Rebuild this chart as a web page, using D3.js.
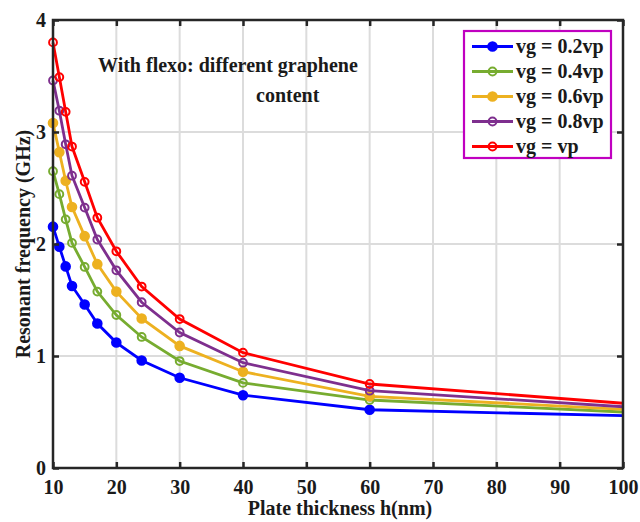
<!DOCTYPE html>
<meta charset="utf-8">
<script src="https://cdn.jsdelivr.net/npm/d3@7"></script>
<style>
body { margin: 0; background: #fff; }
text { font-family: "Liberation Serif", "Times New Roman", serif; font-weight: bold; fill: #1a1a1a; }
.grid line { stroke: #dcdcdc; stroke-width: 2px; }
</style>
<body>
<script>

// plate thickness values (nm)
var thickness = [10, 11, 12, 13, 15, 17, 20, 24, 30, 40, 60, 100];

// resonant frequency (GHz) for each graphene content
var vg02 = [2.155, 1.976, 1.80, 1.625, 1.46, 1.29, 1.12, 0.96, 0.806, 0.65, 0.52, 0.467];
var vg04 = [2.65, 2.445, 2.22, 2.01, 1.795, 1.575, 1.366, 1.17, 0.955, 0.76, 0.607, 0.50];
var vg06 = [3.08, 2.82, 2.565, 2.33, 2.07, 1.82, 1.575, 1.335, 1.09, 0.86, 0.64, 0.524];
var vg08 = [3.46, 3.19, 2.89, 2.61, 2.325, 2.04, 1.765, 1.48, 1.21, 0.94, 0.69, 0.547];
var vg10 = [3.80, 3.49, 3.18, 2.87, 2.555, 2.235, 1.935, 1.62, 1.33, 1.03, 0.75, 0.578];

var seriesNames = ["vg = 0.2vp", "vg = 0.4vp", "vg = 0.6vp", "vg = 0.8vp", "vg = vp"];
var seriesColors = ["#0000ff", "#77ac30", "#edb120", "#7e2f8e", "#ff0000"];
var seriesFilled = [true, false, true, false, false];
var seriesValues = [vg02, vg04, vg06, vg08, vg10];

var xTicks = [10, 20, 30, 40, 50, 60, 70, 80, 90, 100];
var yTicks = [0, 1, 2, 3, 4];

var width = 640, height = 522;
var margin = {left: 53, right: 17, top: 20, bottom: 54};

var svg = d3.select("body").append("svg")
    .attr("width", width)
    .attr("height", height);

var x = d3.scaleLinear().domain([10, 100]).range([margin.left, width - margin.right]);
var y = d3.scaleLinear().domain([0, 4]).range([height - margin.bottom, margin.top]);

// grid
svg.append("g").attr("class", "grid")
    .selectAll("line").data(xTicks.slice(1, -1)).enter().append("line")
    .attr("x1", function(d) { return x(d); }).attr("x2", function(d) { return x(d); })
    .attr("y1", y(0)).attr("y2", y(4));
svg.append("g").attr("class", "grid")
    .selectAll("line").data(yTicks.slice(1, -1)).enter().append("line")
    .attr("x1", x(10)).attr("x2", x(100))
    .attr("y1", function(d) { return y(d); }).attr("y2", function(d) { return y(d); });

// lines + markers
var line = d3.line()
    .x(function(d) { return x(d[0]); })
    .y(function(d) { return y(d[1]); });

seriesValues.forEach(function(vals, i) {
  var pts = thickness.map(function(t, j) { return [t, vals[j]]; });
  var g = svg.append("g");
  g.append("path")
      .attr("d", line(pts))
      .attr("fill", "none")
      .attr("stroke", seriesColors[i])
      .attr("stroke-width", 2.8);
  g.selectAll("circle").data(pts.slice(0, -1)).enter().append("circle")
      .attr("cx", function(d) { return x(d[0]); })
      .attr("cy", function(d) { return y(d[1]); })
      .attr("r", seriesFilled[i] ? 4.3 : 3.9)
      .attr("fill", seriesFilled[i] ? seriesColors[i] : "none")
      .attr("stroke", seriesColors[i])
      .attr("stroke-width", 2);
});

// axes (MATLAB style: box with inward ticks)
var axisColor = "#262626";
function styleAxis(g) {
  g.select(".domain").remove();
  g.selectAll(".tick line").attr("stroke", axisColor).attr("stroke-width", 2.5);
  g.selectAll(".tick text").style("font-size", "20px").attr("fill", "#1a1a1a");
}

svg.append("g")
    .attr("transform", "translate(0," + y(0) + ")")
    .call(d3.axisBottom(x).tickValues(xTicks).tickSize(-6).tickPadding(12).tickFormat(d3.format("d")))
    .call(styleAxis);
svg.append("g")
    .attr("transform", "translate(0," + y(4) + ")")
    .call(d3.axisTop(x).tickValues(xTicks).tickSize(-6).tickFormat(""))
    .call(styleAxis);
svg.append("g")
    .attr("transform", "translate(" + x(10) + ",0)")
    .call(d3.axisLeft(y).tickValues(yTicks).tickSize(-6).tickPadding(7).tickFormat(d3.format("d")))
    .call(styleAxis);
svg.append("g")
    .attr("transform", "translate(" + x(100) + ",0)")
    .call(d3.axisRight(y).tickValues(yTicks).tickSize(-6).tickFormat(""))
    .call(styleAxis);

svg.append("rect")
    .attr("x", x(10)).attr("y", y(4))
    .attr("width", x(100) - x(10)).attr("height", y(0) - y(4))
    .attr("fill", "none").attr("stroke", axisColor).attr("stroke-width", 2.5);

// axis labels
svg.append("text")
    .attr("x", (x(10) + x(100)) / 2 + 2).attr("y", 515)
    .attr("text-anchor", "middle")
    .style("font-size", "20px")
    .text("Plate thickness h(nm)");
svg.append("text")
    .attr("transform", "translate(30," + ((y(0) + y(4)) / 2) + ") rotate(-90)")
    .attr("text-anchor", "middle")
    .style("font-size", "20px")
    .text("Resonant frequency (GHz)");

// annotation
svg.append("text").attr("x", 98).attr("y", 72)
    .style("font-size", "20px").attr("fill", "#000").text("With flexo: different graphene");
svg.append("text").attr("x", 256).attr("y", 102)
    .style("font-size", "20px").attr("fill", "#000").text("content");

// legend
var lg = svg.append("g");
lg.append("rect")
    .attr("x", 464).attr("y", 31).attr("width", 147).attr("height", 127)
    .attr("fill", "#fff").attr("stroke", "#c000c0").attr("stroke-width", 2.2);
seriesNames.forEach(function(name, i) {
  var cy = 46.5 + i * 25;
  lg.append("line")
      .attr("x1", 472).attr("x2", 513).attr("y1", cy).attr("y2", cy)
      .attr("stroke", seriesColors[i]).attr("stroke-width", 2.8);
  lg.append("circle")
      .attr("cx", 492.5).attr("cy", cy).attr("r", seriesFilled[i] ? 4.3 : 3.9)
      .attr("fill", seriesFilled[i] ? seriesColors[i] : "none")
      .attr("stroke", seriesColors[i]).attr("stroke-width", 2);
  lg.append("text")
      .attr("x", 516).attr("y", cy + 6.5)
      .style("font-size", "20px").attr("fill", "#262626")
      .text(name);
});

</script>
</body>
